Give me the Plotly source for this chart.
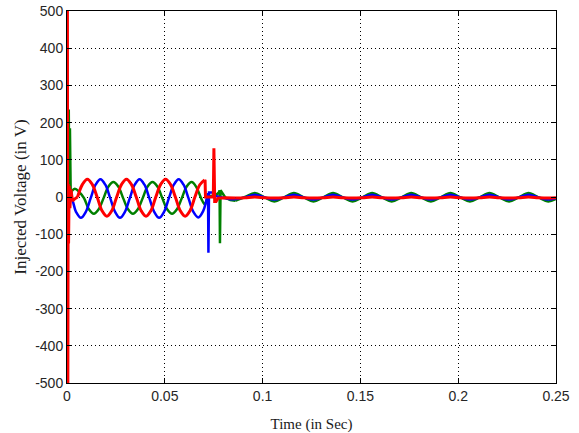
import plotly.graph_objects as go

# ---------------- data ----------------
# Red phase
red_start_t = [0, 0.0002, 0.0004, 0.0006, 0.0008, 0.0011, 0.0015, 0.0020, 0.0028, 0.0040, 0.0054]
red_start_v = [0, 620, -620, 35, -125, 30, -30, 20, -10, -5, 0]
red_sine_t = [0.0054, 0.0079, 0.0104, 0.0129, 0.0154, 0.0179, 0.0204, 0.0229, 0.0254, 0.0279,
              0.0304, 0.0329, 0.0354, 0.0379, 0.0404, 0.0429, 0.0454, 0.0479, 0.0504, 0.0529,
              0.0554, 0.0579, 0.0604, 0.0629, 0.0654, 0.0679, 0.0704]
red_sine_v = [0, 34, 48, 34, 0, -37, -52, -37, 0, 34,
              48, 34, 0, -37, -52, -37, 0, 34, 48, 34,
              0, -37, -52, -37, 0, 33, 46]
red_trans_t = [0.0704, 0.0706, 0.0708, 0.0748, 0.0751, 0.0755, 0.0762, 0.0772, 0.0810, 0.086]
red_trans_v = [46, 44, 0, 0, 131, -12, -12, -3, -2, -3]

# Blue phase
blue_sine_t = [0, 0.0021, 0.0046, 0.0071, 0.0096, 0.0121, 0.0146, 0.0171, 0.0196, 0.0221,
               0.0246, 0.0271, 0.0296, 0.0321, 0.0346, 0.0371, 0.0396, 0.0421, 0.0446, 0.0471,
               0.0496, 0.0521, 0.0546, 0.0571, 0.0596, 0.0621, 0.0646, 0.0671, 0.0696, 0.0716]
blue_sine_v = [0, -2, -40, -56, -40, -3, 33, 48, 33, -3,
               -40, -56, -40, -3, 33, 48, 33, -3, -40, -56,
               -40, -3, 33, 48, 33, -3, -40, -55, -38, 0]
blue_trans_t = [0.0716, 0.0721, 0.0723, 0.0726, 0.0745, 0.0760, 0.0780, 0.0810, 0.0835, 0.086]
blue_trans_v = [0, 10, -150, 12, 12, 3, 0, -4, -6, -6]

# Green phase
green_start_t = [0, 0.0005, 0.0009, 0.0012, 0.0015, 0.0019, 0.0025]
green_start_v = [0, 0, 235, 20, 185, 5, 16]
green_sine_t = [0.0025, 0.0040, 0.0062, 0.0087, 0.0112, 0.0137, 0.0162, 0.0187, 0.0212, 0.0237,
                0.0262, 0.0287, 0.0312, 0.0337, 0.0362, 0.0387, 0.0412, 0.0437, 0.0462, 0.0487,
                0.0512, 0.0537, 0.0562, 0.0587, 0.0612, 0.0637, 0.0662, 0.0687, 0.0705, 0.0715,
                0.0730]
green_sine_v = [16, 22, 14, -3, -33, -45, -33, -3, 28, 40,
                28, -3, -33, -45, -33, -3, 28, 40, 28, -3,
                -33, -45, -33, -3, 28, 40, 26, -5, -20, -8,
                2]
green_trans_t = [0.0730, 0.0760, 0.0776, 0.0780, 0.0782, 0.0785, 0.0795, 0.0810, 0.0835, 0.086]
green_trans_v = [2, 5, 12, 18, -124, 18, 10, -2, -8, -10]

# Steady state after compensation (small residual ripple)
steady_t = [0.086, 0.091, 0.096, 0.101, 0.106, 0.111, 0.116, 0.121, 0.126, 0.131,
            0.136, 0.141, 0.146, 0.151, 0.156, 0.161, 0.166, 0.171, 0.176, 0.181,
            0.186, 0.191, 0.196, 0.201, 0.206, 0.211, 0.216, 0.221, 0.226, 0.231,
            0.236, 0.241, 0.246, 0.25]
green_ss = [-10, 0, 11, -1, -12, -1, 11, -1, -12, -1,
            11, -1, -12, -1, 11, -1, -12, -1, 11, -1,
            -12, -1, 11, -1, -12, -1, 11, -1, -12, -1,
            11, -1, -12, -5]
blue_ss = [-6, -1, 6, -1, -7, -1, 6, -1, -7, -1,
           6, -1, -7, -1, 6, -1, -7, -1, 6, -1,
           -7, -1, 6, -1, -7, -1, 6, -1, -7, -1,
           6, -1, -7, -3]
red_ss = [-3, -2, 0, -2, -3, -2, 0, -2, -3, -2,
          0, -2, -3, -2, 0, -2, -3, -2, 0, -2,
          -3, -2, 0, -2, -3, -2, 0, -2, -3, -2,
          0, -2, -3, -2]

x_ticks = [0, 0.05, 0.1, 0.15, 0.2, 0.25]
x_tick_text = ["0", "0.05", "0.1", "0.15", "0.2", "0.25"]
y_ticks = [-500, -400, -300, -200, -100, 0, 100, 200, 300, 400, 500]
y_tick_text = [str(v) for v in y_ticks]

# ---------------- figure ----------------
GREEN, BLUE, RED = "#008000", "#0000ff", "#ff0000"
segments = [
    # (t, v, colour, width, shape) -- drawn in this order (green, blue, red on top)
    (green_start_t, green_start_v, GREEN, 2.5, "linear"),
    (green_sine_t, green_sine_v, GREEN, 2.5, "spline"),
    (green_trans_t, green_trans_v, GREEN, 2.5, "linear"),
    (steady_t, green_ss, GREEN, 2.5, "spline"),
    (blue_sine_t, blue_sine_v, BLUE, 2.5, "spline"),
    (blue_trans_t, blue_trans_v, BLUE, 2.5, "linear"),
    (steady_t, blue_ss, BLUE, 2.5, "spline"),
    (red_start_t, red_start_v, RED, 3, "linear"),
    (red_sine_t, red_sine_v, RED, 3, "spline"),
    (red_trans_t, red_trans_v, RED, 3, "linear"),
    (steady_t, red_ss, RED, 3, "spline"),
]

fig = go.Figure()
for t, v, col, w, shape in segments:
    assert len(t) == len(v)
    fig.add_trace(go.Scatter(x=t, y=v, mode="lines",
                             line=dict(color=col, width=w, shape=shape),
                             showlegend=False, hoverinfo="skip"))

tick_font = dict(family="Liberation Sans, Arial, sans-serif", size=14, color="#262626")
xtitle_font = dict(family="Liberation Serif, Times New Roman, serif", size=15, color="#1a1a1a")
ytitle_font = dict(family="Liberation Serif, Times New Roman, serif", size=17, color="#1a1a1a")

axis_common = dict(
    showline=True, linecolor="black", linewidth=1, mirror="ticks",
    ticks="inside", ticklen=5, tickcolor="black", tickwidth=1,
    showgrid=True, gridcolor="black", gridwidth=1, griddash="1px,3px",
    zeroline=False, tickfont=tick_font, automargin=False,
)

fig.update_xaxes(range=[0, 0.25], tickvals=x_ticks, ticktext=x_tick_text,
                 title=dict(text="Time (in Sec)", font=xtitle_font, standoff=16),
                 **axis_common)
fig.update_yaxes(range=[-500, 500], tickvals=y_ticks, ticktext=y_tick_text,
                 title=dict(text="Injected Voltage (in V)", font=ytitle_font, standoff=4),
                 **axis_common)

fig.update_layout(
    width=579, height=433,
    margin=dict(l=67, r=23, t=11, b=50),
    paper_bgcolor="white", plot_bgcolor="white",
)

fig.write_html("out.html")
